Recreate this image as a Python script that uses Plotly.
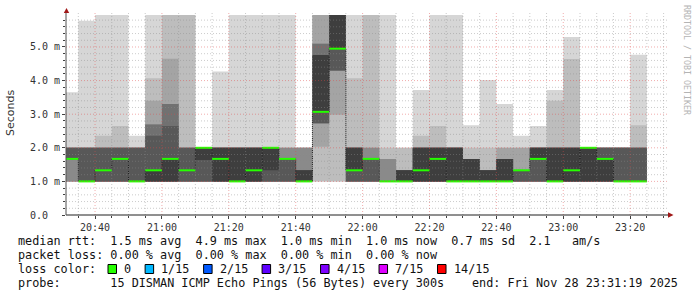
import plotly.graph_objects as go
import pandas as pd

# ---------------- data ----------------
bar_end = pd.date_range("2025-11-28 20:35", "2025-11-28 23:25", freq="5min")
t_start = pd.Timestamp("2025-11-28 20:31:19")
t_end = pd.Timestamp("2025-11-28 23:31:19")

# 15 sorted ping rtts per 5-minute step (ms); values above the chart top are clipped
ping01 = [1, 1, 1, 1, 1, 1, 1, 1, 1, 1, 1, 1, 1, 1, 1, 1, 1, 1, 1, 1, 1, 1, 1, 1, 1, 1, 1, 1, 1, 1, 1, 1, 1, 1, 1]
ping02 = [1, 1, 1, 1, 1, 1, 1, 1, 1, 1, 1, 1, 1, 1, 1, 1, 1, 1, 1, 1, 1, 1, 1, 1, 1, 1, 1, 1, 1, 1, 1, 1, 1, 1, 1]
ping03 = [1, 1, 1, 1, 1, 1, 1, 1, 1, 1, 1, 1, 1, 1, 1, 2.03, 2.98, 1, 1, 1, 1, 1, 1, 1, 1, 1, 1, 1, 1, 1, 1, 1, 1, 1, 1]
ping04 = [1, 1, 1, 1, 1, 1, 1, 1, 1, 1, 1, 1, 1, 1, 1, 2.73, 4.30, 1, 1, 1, 1, 1, 1, 1, 1, 1, 1, 1, 1, 1, 1, 1, 1, 1, 1]
ping05 = [1.67, 1, 1, 1, 1, 1, 1, 1, 1, 1, 1, 1, 1, 1, 1, 2.73, 4.30, 1, 1, 1, 1, 1, 1, 1, 1, 1, 1, 1, 1, 1, 1, 1, 1, 1, 1]
ping06 = [1.67, 1, 1, 1, 1, 1, 1, 1, 1, 1, 1, 1, 1, 1, 1, 2.73, 4.30, 1, 1, 1, 1, 1, 1, 1, 1, 1, 1, 1, 1, 1, 1, 1, 1, 1, 1]
ping07 = [1.67, 1, 1.33, 1.67, 1, 1, 1, 1.33, 1.64, 1, 1, 1, 1.33, 1.67, 1, 3.07, 4.95, 1.33, 1.67, 1,
          1, 1, 1, 1, 1, 1, 1, 1.33, 1.67, 1, 1, 1, 1, 1, 1]
ping08 = [1.67, 1, 1.33, 1.67, 1, 1.33, 1.67, 1.33, 2, 1.67, 1, 1.33, 2, 1.67, 1, 3.07, 4.95, 1.33, 1.67, 1,
          1, 1.33, 1.67, 1, 1, 1, 1, 1.33, 1.67, 1, 1.33, 2, 1.67, 1, 1]
ping09 = [1.67, 1, 1.33, 1.67, 1, 1.33, 1.67, 1.33, 2, 2, 2, 2, 2, 1.67, 1.33, 4.76, 7, 2, 1.67, 1,
          1.33, 2, 2, 2, 1.67, 1.33, 1.67, 1.33, 2, 2, 2, 2, 1.67, 1, 1]
ping10 = [2, 2, 2, 2, 2, 2.36, 2.65, 2, 2, 2, 2, 2, 2, 1.67, 1.33, 4.76, 7, 2, 1.67, 1,
          1.33, 2, 2, 2, 1.67, 1.33, 1.67, 1.33, 2, 2, 2, 2, 2, 2, 2]
ping11 = [2, 2, 2, 2, 2, 2.69, 3.30, 2, 2, 2, 2, 2, 2, 1.67, 1.33, 5.10, 7, 2, 1.67, 1,
          1.33, 2, 2, 2, 1.67, 1.33, 1.67, 1.33, 2, 2, 2, 2, 2, 2, 2]
ping12 = [2, 2, 2, 2, 2, 2.69, 3.30, 2, 2, 2, 2, 2, 2, 2, 2, 5.10, 7, 2, 2, 1.67,
          1.33, 2, 2, 2, 1.67, 1.33, 1.67, 1.33, 2, 2, 2, 2, 2, 2, 2]
ping13 = [2, 2, 2, 2, 2, 3.40, 4.65, 2, 2, 2, 2, 2, 2, 2, 2, 7, 7, 2, 2, 1.67,
          1.33, 2, 2, 2, 1.67, 1.33, 2, 2, 2, 2, 2, 2, 2, 2, 2]
ping14 = [2, 2, 2.36, 2.65, 2, 4.07, 7, 7, 2, 2, 2, 2, 2, 2, 2, 7, 7, 4.07, 7, 2,
          2, 2.36, 2.65, 2, 2, 2, 2, 2, 2, 3.40, 4.64, 2, 2, 2, 2.67]
ping15 = [3.65, 5.78, 7, 7, 2.36, 7, 7, 7, 2, 4.27, 7, 7, 7, 7, 2, 7, 7, 7, 7, 7,
          2, 3.72, 7, 7, 2.67, 4.02, 3.30, 2.36, 2.65, 3.72, 5.30, 2, 2, 2, 4.77]
pings = [ping01, ping02, ping03, ping04, ping05, ping06, ping07, ping08,
         ping09, ping10, ping11, ping12, ping13, ping14, ping15]
median = ping08

y_tick_vals = [0, 1, 2, 3, 4, 5]
y_tick_text = ["0.0\u00a0\u00a0", "1.0 m", "2.0 m", "3.0 m", "4.0 m", "5.0 m"]

legend_rows = [
    "median rtt:  1.5 ms avg  4.9 ms max  1.0 ms min  1.0 ms now  0.7 ms sd  2.1   am/s",
    "packet loss: 0.00 % avg  0.00 % max  0.00 % min  0.00 % now",
]
loss_labels = ["0", "1/15", "2/15", "3/15", "4/15", "7/15", "14/15"]
loss_colors = ["#26ff00", "#00b8ff", "#0059ff", "#5e00ff", "#7e00ff", "#dd00ff", "#ff0000"]
probe_text = "probe:       15 DISMAN ICMP Echo Pings (56 Bytes) every 300s"
end_text = "end: Fri Nov 28 23:31:19 2025"

# ---------------- layout geometry ----------------
W, H = 697, 297
L, R, T, B = 66, 29, 15, 82
PW, PH = W - L - R, H - T - B
YMAX = 5.952
MONO = "DejaVu Sans Mono"


def px(x):
    return (x - L) / PW


def py(y):
    return (H - B - y) / PH


step = pd.Timedelta(minutes=5)
starts = list(bar_end - step)
ends = list(bar_end)

fig = go.Figure()

# smoke bands (outer light -> inner dark)
half = 7
for k in range(1, half + 1):
    lo = pings[k - 1]
    hi = pings[15 - k]
    g = int(190 / 7.5 * (7.5 - k)) + 50
    col = "#%02x%02x%02x" % (g, g, g)
    xs, ys = [], []
    for s, e, h in zip(starts, ends, hi):
        xs += [s, e]
        ys += [h, h]
    for s, e, l in reversed(list(zip(starts, ends, lo))):
        xs += [e, s]
        ys += [l, l]
    xs.append(xs[0])
    ys.append(ys[0])
    fig.add_trace(go.Scatter(x=xs, y=ys, mode="lines", fill="toself", fillcolor=col,
                             line=dict(width=0), hoverinfo="skip", showlegend=False))

# median step line (dark dotted)
mx, my = [], []
for s, e, m in zip(starts, ends, median):
    mx += [s, e]
    my += [m, m]
fig.add_trace(go.Scatter(x=mx, y=my, mode="lines", line=dict(color="#202020", width=1, dash="1px,1px"),
                         hoverinfo="skip", showlegend=False))
# median colored by loss (all 0 loss -> green)
gx, gy = [], []
for s, e, m in zip(starts, ends, median):
    gx += [s, e, None]
    gy += [m, m, None]
fig.add_trace(go.Scatter(x=gx, y=gy, mode="lines", line=dict(color=loss_colors[0], width=2),
                         hoverinfo="skip", showlegend=False))

shapes = []
# horizontal grid
for i in range(1, 30):
    v = i * 0.2
    major = (i % 5 == 0)
    shapes.append(dict(type="line", xref="paper", yref="y", x0=0, x1=1, y0=v, y1=v, layer="above",
                       line=dict(color="rgba(225,70,70,0.45)" if major else "rgba(140,140,140,0.45)",
                                 width=1, dash="1px,2px")))
# vertical grid
for t in pd.date_range("2025-11-28 20:35", "2025-11-28 23:30", freq="5min"):
    major = (t.minute % 20 == 0)
    shapes.append(dict(type="line", xref="x", yref="paper", x0=t, x1=t, y0=0, y1=py(13), layer="above",
                       line=dict(color="rgba(225,70,70,0.45)" if major else "rgba(140,140,140,0.45)",
                                 width=1, dash="1px,2px")))
# axes lines
shapes.append(dict(type="line", xref="paper", yref="paper", x0=px(66), x1=px(669), y0=0, y1=0,
                   layer="above", line=dict(color="#202020", width=1)))
shapes.append(dict(type="line", xref="paper", yref="paper", x0=0, x1=0, y0=0, y1=py(12),
                   layer="above", line=dict(color="#505050", width=1)))
# arrows
arrow_col = "#a01818"
shapes.append(dict(type="path", xref="paper", yref="paper", layer="above",
                   path="M %f %f L %f %f L %f %f Z" % (px(63.8), py(13), px(69.2), py(13), px(66.5), py(8)),
                   fillcolor=arrow_col, line=dict(width=0)))
shapes.append(dict(type="path", xref="paper", yref="paper", layer="above",
                   path="M %f %f L %f %f L %f %f Z" % (px(668), py(212.3), px(668), py(217.7), px(673.5), py(215)),
                   fillcolor=arrow_col, line=dict(width=0)))

annotations = []
# y title
annotations.append(dict(text="Seconds", xref="paper", yref="paper", x=px(10), y=py(113), showarrow=False,
                        textangle=-90, font=dict(family="DejaVu Sans", size=11, color="#333333"),
                        xanchor="center", yanchor="middle"))
# watermark
annotations.append(dict(text="RRDTOOL / TOBI OETIKER", xref="paper", yref="paper", x=px(687), y=py(60),
                        showarrow=False, textangle=90, font=dict(family=MONO, size=8.3, color="#b4b4b4"),
                        xanchor="center", yanchor="middle"))
# legend rows
row_y = [241, 255, 269, 283]
LEG = 11.8
for txt, yy in zip(legend_rows, row_y[:2]):
    annotations.append(dict(text=txt.replace(" ", "\u00a0"), xref="paper", yref="paper", x=px(16), y=py(yy),
                            showarrow=False, xanchor="left", yanchor="middle",
                            font=dict(family=MONO, size=LEG, color="#111111")))
annotations.append(dict(text="loss\u00a0color:", xref="paper", yref="paper", x=px(16), y=py(row_y[2]),
                        showarrow=False, xanchor="left", yanchor="middle",
                        font=dict(family=MONO, size=LEG, color="#111111")))
cw = 7.12
xb = 108
for lab, col in zip(loss_labels, loss_colors):
    shapes.append(dict(type="rect", xref="paper", yref="paper", x0=px(xb), x1=px(xb + 8.5),
                       y0=py(row_y[2] + 4.5), y1=py(row_y[2] - 4.5), fillcolor=col,
                       line=dict(color="#000000", width=1)))
    annotations.append(dict(text=lab, xref="paper", yref="paper", x=px(xb + 14), y=py(row_y[2]),
                            showarrow=False, xanchor="left", yanchor="middle",
                            font=dict(family=MONO, size=LEG, color="#111111")))
    xb += 14 + len(lab) * cw + 16
annotations.append(dict(text=probe_text.replace(" ", "\u00a0"), xref="paper", yref="paper", x=px(16),
                        y=py(row_y[3]), showarrow=False, xanchor="left", yanchor="middle",
                        font=dict(family=MONO, size=LEG, color="#111111")))
annotations.append(dict(text=end_text.replace(" ", "\u00a0"), xref="paper", yref="paper", x=px(680),
                        y=py(row_y[3]), showarrow=False, xanchor="right", yanchor="middle",
                        font=dict(family=MONO, size=LEG, color="#111111")))

fig.update_layout(
    width=W, height=H, autosize=False,
    margin=dict(l=L, r=R, t=T, b=B, pad=0),
    paper_bgcolor="white", plot_bgcolor="white",
    showlegend=False,
    shapes=shapes, annotations=annotations,
    xaxis=dict(type="date", range=[t_start, t_end], showgrid=False, zeroline=False, showline=False,
               ticks="outside", ticklen=3, tickcolor="#404040", tickwidth=1,
               tick0="2025-11-28 20:40", dtick=20 * 60 * 1000, tickformat="%H:%M",
               tickfont=dict(family=MONO, size=10, color="#333333"),
               minor=dict(tick0="2025-11-28 20:35", dtick=5 * 60 * 1000, ticks="outside", ticklen=2,
                          tickcolor="#404040", showgrid=False)),
    yaxis=dict(range=[0, YMAX], showgrid=False, zeroline=False, showline=False,
               tickmode="array", tickvals=y_tick_vals, ticktext=y_tick_text,
               ticks="outside", ticklen=3, tickcolor="#404040", tickwidth=1,
               tickfont=dict(family=MONO, size=10, color="#333333"),
               minor=dict(tickmode="linear", tick0=0, dtick=0.2, ticks="outside", ticklen=2,
                          tickcolor="#404040", showgrid=False)),
)

fig.write_html("out.html", config={"displayModeBar": False})
